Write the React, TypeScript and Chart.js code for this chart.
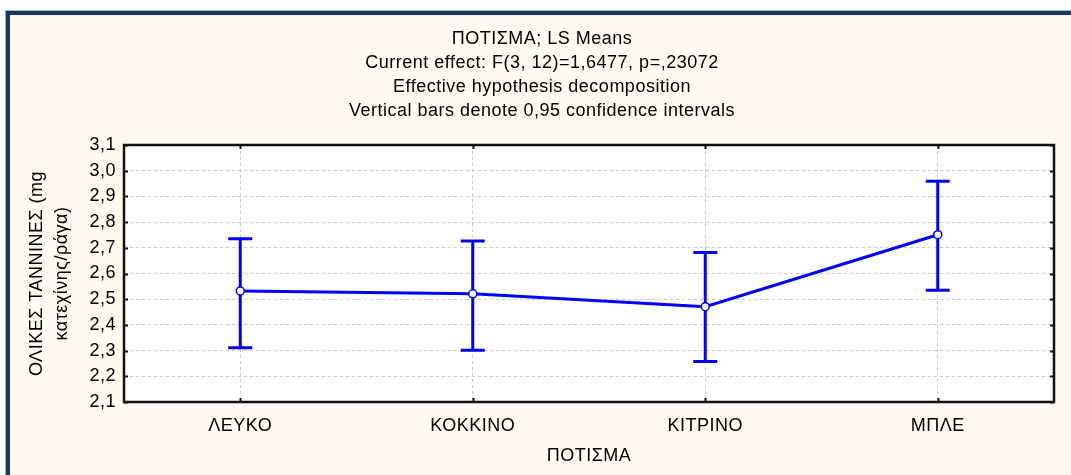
import React, { useEffect, useRef } from "react";
import { Chart, registerables } from "chart.js";

Chart.register(...registerables);

// ---- data ----
const categories = ["ΛΕΥΚΟ", "ΚΟΚΚΙΝΟ", "ΚΙΤΡΙΝΟ", "ΜΠΛΕ"];
const means = [2.532, 2.521, 2.471, 2.751];
const upperCI = [2.735, 2.726, 2.682, 2.959];
const lowerCI = [2.311, 2.301, 2.258, 2.535];
const yMin = 2.1;
const yMax = 3.1;
const yStep = 0.1;
const titleLines = [
  "ΠΟΤΙΣΜΑ; LS Means",
  "Current effect: F(3, 12)=1,6477, p=,23072",
  "Effective hypothesis decomposition",
  "Vertical bars denote 0,95 confidence intervals",
];
const yTitle = ["ΟΛΙΚΕΣ ΤΑΝΝΙΝΕΣ (mg", "κατεχίνης/ράγα)"];
const xTitle = "ΠΟΤΙΣΜΑ";

const FONT = "'Liberation Sans', Arial, sans-serif";
const FS = 18;
const BLUE = "#0000ff";

const bgPlugin = {
  id: "bgPlugin",
  beforeDraw(chart: any) {
    const ctx = chart.ctx;
    try {
      (ctx as any).letterSpacing = "0.5px";
    } catch (e) {}
    const a = chart.chartArea;
    ctx.save();
    ctx.fillStyle = "#ffffff";
    ctx.fillRect(a.left, a.top, a.right - a.left, a.bottom - a.top);
    ctx.restore();
  },
};

const errorBarPlugin = {
  id: "errorBarPlugin",
  beforeDatasetsDraw(chart: any) {
    const ctx = chart.ctx;
    const xs = chart.scales.x;
    const ys = chart.scales.y;
    ctx.save();
    ctx.strokeStyle = BLUE;
    ctx.lineWidth = 3;
    ctx.lineCap = "butt";
    for (let i = 0; i < categories.length; i++) {
      const x = xs.getPixelForValue(i);
      const yu = ys.getPixelForValue(upperCI[i]);
      const yl = ys.getPixelForValue(lowerCI[i]);
      ctx.beginPath();
      ctx.moveTo(x, yu);
      ctx.lineTo(x, yl);
      ctx.moveTo(x - 12, yu);
      ctx.lineTo(x + 12, yu);
      ctx.moveTo(x - 12, yl);
      ctx.lineTo(x + 12, yl);
      ctx.stroke();
    }
    ctx.restore();
  },
};

const framePlugin = {
  id: "framePlugin",
  afterDraw(chart: any) {
    const ctx = chart.ctx;
    const a = chart.chartArea;
    const xs = chart.scales.x;
    const ys = chart.scales.y;
    ctx.save();
    ctx.strokeStyle = "#111111";
    ctx.lineWidth = 2;
    ys.ticks.forEach((t: any) => {
      const y = Math.round(ys.getPixelForValue(t.value)) + 0.5;
      ctx.beginPath();
      ctx.moveTo(a.left, y);
      ctx.lineTo(a.left + 4, y);
      ctx.moveTo(a.right - 4, y);
      ctx.lineTo(a.right, y);
      ctx.stroke();
    });
    for (let i = 0; i < categories.length; i++) {
      const x = Math.round(xs.getPixelForValue(i)) + 0.5;
      ctx.beginPath();
      ctx.moveTo(x, a.top);
      ctx.lineTo(x, a.top + 4);
      ctx.moveTo(x, a.bottom - 4);
      ctx.lineTo(x, a.bottom);
      ctx.stroke();
    }
    ctx.lineWidth = 2.5;
    ctx.strokeRect(a.left, a.top, a.right - a.left, a.bottom - a.top);
    ctx.restore();
  },
};

export default function App() {
  const canvasRef = useRef<HTMLCanvasElement | null>(null);

  useEffect(() => {
    document.body.style.margin = "0";
    const canvas = canvasRef.current;
    if (!canvas) return;
    const chart = new Chart(canvas, {
      type: "line",
      data: {
        labels: categories,
        datasets: [
          {
            data: means,
            borderColor: BLUE,
            borderWidth: 3,
            tension: 0,
            pointRadius: 4,
            pointBackgroundColor: "#ffffff",
            pointBorderColor: BLUE,
            pointBorderWidth: 1.5,
            fill: false,
          },
        ],
      },
      options: {
        responsive: false,
        animation: false,
        devicePixelRatio: 1,
        layout: { padding: { left: 30, top: 0, right: 17, bottom: 0 } },
        plugins: {
          legend: { display: false },
          tooltip: { enabled: false },
          title: {
            display: true,
            text: titleLines,
            color: "#000000",
            font: { family: FONT, size: FS, weight: "normal", lineHeight: 24 / FS },
            padding: { top: 27, bottom: 22 },
          },
        },
        scales: {
          x: {
            type: "category",
            offset: true,
            grid: { color: "#c8c8c8", lineWidth: 1, drawTicks: false, offset: false },
            border: { display: false, dash: [3, 3] },
            ticks: { color: "#000000", font: { family: FONT, size: FS }, padding: 13 },
            title: {
              display: true,
              text: xTitle,
              color: "#000000",
              font: { family: FONT, size: FS, lineHeight: 1.2 },
              padding: { top: 0, bottom: 8 },
            },
            afterFit(scale: any) {
              scale.height = 73;
            },
          },
          y: {
            type: "linear",
            min: yMin,
            max: yMax,
            grid: { color: "#c8c8c8", lineWidth: 1, drawTicks: false },
            border: { display: false, dash: [3, 3] },
            ticks: {
              stepSize: yStep,
              color: "#000000",
              font: { family: FONT, size: FS },
              padding: 8,
              autoSkip: false,
              callback: (v: any) => Number(v).toFixed(1).replace(".", ","),
            },
            title: {
              display: true,
              text: yTitle,
              color: "#000000",
              font: { family: FONT, size: FS, lineHeight: 25 / FS },
              padding: { top: -5, bottom: 0 },
            },
            afterFit(scale: any) {
              scale.width = 94;
            },
          },
        },
      },
      plugins: [bgPlugin, errorBarPlugin, framePlugin],
    } as any);
    return () => chart.destroy();
  }, []);

  return (
    <div
      style={{
        position: "fixed",
        left: 0,
        top: 0,
        width: 1071,
        height: 475,
        overflow: "hidden",
        background: "#ffffff",
      }}
    >
      <div
        style={{
          position: "absolute",
          left: 5,
          top: 10,
          width: 1200,
          height: 600,
          borderTop: "1px solid #a9b4c2",
          borderLeft: "1px solid #a9b4c2",
        }}
      />
      <div
        style={{
          position: "absolute",
          left: 6,
          top: 11,
          width: 1200,
          height: 600,
          borderTop: "4px solid #1b375f",
          borderLeft: "4px solid #1b375f",
          background: "#fffaef",
        }}
      />
      <canvas
        ref={canvasRef}
        width={1071}
        height={475}
        style={{ position: "absolute", left: 0, top: 0, width: 1071, height: 475, display: "block" }}
      />
    </div>
  );
}
